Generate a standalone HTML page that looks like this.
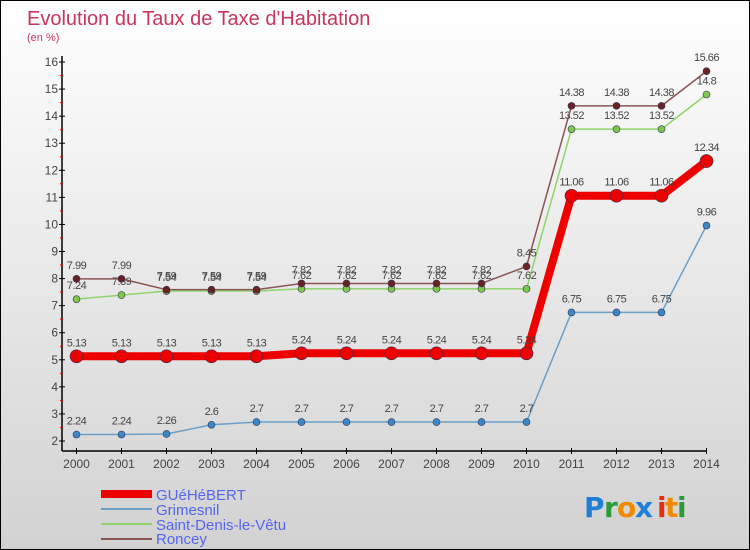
<!DOCTYPE html>
<html><head><meta charset="utf-8"><style>
body{margin:0}
#c{position:relative;width:750px;height:550px;box-sizing:border-box;border:1px solid #000;background:linear-gradient(#ffffff,#d2d2d2);font-family:"Liberation Sans",sans-serif;overflow:hidden}
</style></head><body>
<div id="c">
<svg id="s" width="750" height="550" style="position:absolute;left:0;top:0">
<text x="26" y="24" font-size="20" fill="#c8365e">Evolution du Taux de Taxe d'Habitation</text>
<text x="26" y="40" font-size="11" fill="#c8365e">(en %)</text>
<g id="ax"></g><g id="ser"></g>
<g>
<line x1="100" y1="493" x2="151" y2="493" stroke="#ee0000" stroke-width="8"/>
<text x="155" y="499" font-size="15" fill="#5566ee">GUéHéBERT</text>
<line x1="100" y1="508" x2="151" y2="508" stroke="#6a9fc8" stroke-width="2"/>
<text x="155" y="514" font-size="15" fill="#5566ee">Grimesnil</text>
<line x1="100" y1="523" x2="151" y2="523" stroke="#8fd46a" stroke-width="2"/>
<text x="155" y="529" font-size="15" fill="#5566ee">Saint-Denis-le-Vêtu</text>
<line x1="100" y1="538" x2="151" y2="538" stroke="#8a5555" stroke-width="2"/>
<text x="155" y="543" font-size="15" fill="#5566ee">Roncey</text>
</g>
<g font-size="28" font-family="'DejaVu Sans',sans-serif" font-weight="bold">
<text x="583" y="516" fill="#1f7fd6">P</text><text x="603" y="516" fill="#2a9a3a">r</text><text x="616" y="516" fill="#f08a00">o</text><text x="634" y="516" fill="#1f7fd6">x</text><text x="656" y="516" fill="#e03010">i</text><text x="664" y="516" fill="#f08a00">t</text><text x="676" y="516" fill="#2a9a3a">i</text>
</g>
</svg>
</div>
<script>
const years=[2000,2001,2002,2003,2004,2005,2006,2007,2008,2009,2010,2011,2012,2013,2014];
const yTicks=[2,3,4,5,6,7,8,9,10,11,12,13,14,15,16];
const guehebert=[5.13,5.13,5.13,5.13,5.13,5.24,5.24,5.24,5.24,5.24,5.24,11.06,11.06,11.06,12.34];
const grimesnil=[2.24,2.24,2.26,2.6,2.7,2.7,2.7,2.7,2.7,2.7,2.7,6.75,6.75,6.75,9.96];
const saintDenis=[7.24,7.39,7.54,7.54,7.54,7.62,7.62,7.62,7.62,7.62,7.62,13.52,13.52,13.52,14.8];
const roncey=[7.99,7.99,7.59,7.59,7.59,7.82,7.82,7.82,7.82,7.82,8.45,14.38,14.38,14.38,15.66];
const NS='http://www.w3.org/2000/svg';
const X=i=>75.5+i*45;
const Y=v=>440-(v-2)*27.07;
function mk(t,a,p){const e=document.createElementNS(NS,t);for(const k in a)e.setAttribute(k,a[k]);p.appendChild(e);return e;}
const ax=document.getElementById('ax');
let l=mk('line',{x1:61,y1:55,x2:61,y2:450,stroke:'#000','stroke-width':1.5},ax);

l=mk('line',{x1:61,y1:450,x2:706,y2:450,stroke:'#000','stroke-width':1.5},ax);

yTicks.forEach(v=>{
  mk('line',{x1:58,y1:Y(v),x2:64,y2:Y(v),stroke:'#000'},ax);
  if(v<16)mk('line',{x1:59,y1:Y(v+0.5),x2:62,y2:Y(v+0.5),stroke:'#e00'},ax);
  const t=mk('text',{x:57,y:Y(v)+4,'font-size':12,fill:'#444','text-anchor':'end'},ax);t.textContent=v;
  
});
years.forEach((y,i)=>{
  mk('line',{x1:X(i),y1:447,x2:X(i),y2:453,stroke:'#000'},ax);
  const t=mk('text',{x:X(i),y:467,'font-size':12,fill:'#444','text-anchor':'middle'},ax);t.textContent=y;
  
});
const ser=document.getElementById('ser');
function draw(vals,color,dot,w,r,name){
  const g=mk('g',{},ser);
  
  const pl=mk('polyline',{points:vals.map((v,i)=>X(i)+','+Y(v)).join(' '),fill:'none',stroke:color,'stroke-width':w,'stroke-linejoin':'round'},g);
  
  vals.forEach((v,i)=>{
    const c=mk('circle',{cx:X(i),cy:Y(v),r:r,fill:dot,stroke:'#335',"stroke-width":0.6},g);
    
    const t=mk('text',{x:X(i),y:Y(v)-10,'font-size':11,fill:'#444','text-anchor':'middle','letter-spacing':'-0.5'},g);
    t.textContent=v;
    
  });
}
draw(grimesnil,'#6a9fc8','#3a88c8',1.5,3.5,'grimesnil');
draw(saintDenis,'#8fd46a','#7cc84c',1.5,3.5,'saint-denis');
draw(roncey,'#8a5555','#6b2222',1.5,3.5,'roncey');
draw(guehebert,'#ee0000','#ee0000',8,6.5,'guehebert');
</script>
</body></html>
